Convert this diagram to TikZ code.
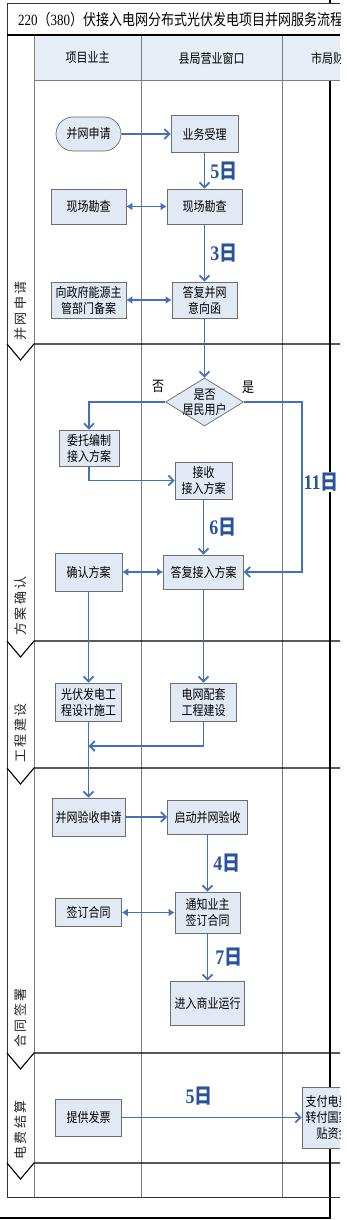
\documentclass[tikz,border=0pt]{standalone}
\usepackage{fontspec}
\usepackage{graphicx}
\setmainfont{Noto Sans CJK SC}
\newfontfamily\serifdig{Liberation Serif}
\usetikzlibrary{arrows.meta,shapes.geometric,shapes.misc}
\definecolor{boxfill}{RGB}{225,233,245}
\definecolor{headfill}{RGB}{232,238,247}
\definecolor{flow}{RGB}{66,112,192}
\definecolor{daycol}{RGB}{40,82,158}
\definecolor{lanegray}{RGB}{125,125,125}
\definecolor{boxline}{RGB}{110,110,110}
\newcommand\vst[1]{\scalebox{1}[1.2]{#1}}
\newcommand\dayl[1]{\scalebox{1}[1.15]{{\serifdig\bfseries #1}\textbf{日}}}
\tikzset{
  stepbox/.style={draw=boxline, fill=boxfill, line width=0.7pt, inner sep=1pt,
    align=center, font=\fontsize{11}{16}\selectfont},
  startbox/.style={stepbox, rounded rectangle},
  decision/.style={diamond, draw=boxline, fill=boxfill, line width=0.7pt,
    inner sep=0pt, minimum width=78pt, minimum height=48pt},
  flowarrow/.style={draw=flow, line width=1.8pt, -{Straight Barb[length=5pt,width=10pt]}},
  biarrow/.style={draw=flow, line width=1.8pt,
    {Latex[length=6pt,width=8pt]}-{Latex[length=6pt,width=8pt]}},
  daylabel/.style={text=daycol, font=\fontsize{18}{18}\selectfont, inner sep=1pt},
  phaselabel/.style={rotate=90, inner sep=0pt, text=black!85,
    font=\fontsize{13}{13}\selectfont\addfontfeature{LetterSpace=20}},
  headtext/.style={font=\fontsize{11}{12}\selectfont, inner sep=0pt},
  phaseline/.style={black, line width=1.1pt},
  laneline/.style={lanegray, line width=0.8pt},
}
\begin{document}
\begin{tikzpicture}[x=1pt,y=-1pt]
\useasboundingbox (0,0) rectangle (346,1220);
\clip (0,0) rectangle (340,1220);
% outer frame
\draw[black, line width=1.1pt] (330,0) -- (330,1218) -- (0,1218);
% title bar
\fill[white] (7,3) rectangle (340,35);
\node[anchor=west, inner sep=0pt, font=\fontsize{13}{13}\selectfont] (title) at (18,20)
  {\vst{{\serifdig 220}（{\serifdig 380}）伏接入电网分布式光伏发电项目并网服务流程}};
% header row
\fill[headfill] (34,35) rectangle (340,80);
\node[headtext] (hOwner) at (87.5,58) {\vst{项目业主}};
\node[headtext] (hCounty) at (211.5,58) {\vst{县局营业窗口}};
\node[headtext, anchor=west] (hCity) at (311,58) {\vst{市局财务}};
% lane lines
\draw[laneline] (34,35) -- (34,1197);
\draw[laneline] (141,35) -- (141,1197);
\draw[laneline] (282,35) -- (282,1197);
\draw[laneline] (34,80) -- (340,80);
% borders
\draw[black!80, line width=0.8pt] (340,3) -- (7,3) -- (7,1197) -- (340,1197);
\draw[black, line width=1.3pt] (7,35) -- (340,35);
% phase dividers with chevrons
\foreach \py in {344,641,768,1053,1163}{
  \draw[phaseline] (7,\py) -- (20.5,\py+16) -- (34,\py) -- (340,\py);
}
% phase labels
\node[phaselabel] (p1) at (20.5,311) {并网申请};
\node[phaselabel] (p2) at (20.5,606) {方案确认};
\node[phaselabel] (p3) at (20.5,733) {工程建设};
\node[phaselabel] (p4) at (20.5,1018) {合同签署};
\node[phaselabel] (p5) at (20.5,1130) {电费结算};
% nodes
\node[startbox, minimum width=67pt, minimum height=34pt] (apply) at (88.5,134) {\vst{并网申请}};
\node[stepbox, minimum width=67pt, minimum height=37pt] (accept) at (204.5,134) {\vst{业务受理}};
\node[stepbox, minimum width=75pt, minimum height=35pt] (surveyL) at (88.5,206.5) {\vst{现场勘查}};
\node[stepbox, minimum width=75pt, minimum height=35pt] (surveyR) at (204.5,206.5) {\vst{现场勘查}};
\node[stepbox, minimum width=75pt, minimum height=36pt] (record) at (88.5,300) {\vst{向政府能源主}\\\vst{管部门备案}};
\node[stepbox, minimum width=65pt, minimum height=36pt] (reply) at (204.5,300) {\vst{答复并网}\\\vst{意向函}};
\node[decision, label={[font=\fontsize{11}{15}\selectfont, align=center, inner sep=0pt]center:\vst{是否}\\\vst{居民用户}}] (resident) at (204.5,402) {};
\node[font=\fontsize{12}{12}\selectfont, inner sep=0pt] (no) at (158,386) {\vst{否}};
\node[font=\fontsize{12}{12}\selectfont, inner sep=0pt] (yes) at (248,387) {\vst{是}};
\node[stepbox, minimum width=60pt, minimum height=36pt] (entrust) at (89,448) {\vst{委托编制}\\\vst{接入方案}};
\node[stepbox, minimum width=57pt, minimum height=37pt] (receive) at (203.5,480.5) {\vst{接收}\\\vst{接入方案}};
\node[stepbox, minimum width=67pt, minimum height=38pt] (confirm) at (88.5,572) {\vst{确认方案}};
\node[stepbox, minimum width=80pt, minimum height=34pt] (replyplan) at (203.5,572) {\vst{答复接入方案}};
\node[stepbox, minimum width=66pt, minimum height=38pt] (pvbuild) at (88.5,702) {\vst{光伏发电工}\\\vst{程设计施工}};
\node[stepbox, minimum width=66pt, minimum height=38pt] (gridbuild) at (203.5,702) {\vst{电网配套}\\\vst{工程建设}};
\coordinate (merge) at (88.5,746);
\node[stepbox, minimum width=73pt, minimum height=38pt] (inspectapply) at (88.5,817) {\vst{并网验收申请}};
\node[stepbox, minimum width=80pt, minimum height=34pt] (inspect) at (207.5,817) {\vst{启动并网验收}};
\node[stepbox, minimum width=66pt, minimum height=28pt] (sign) at (88.5,912.5) {\vst{签订合同}};
\node[stepbox, minimum width=65pt, minimum height=41pt] (notify) at (207.5,912.5) {\vst{通知业主}\\\vst{签订合同}};
\node[stepbox, minimum width=74pt, minimum height=44pt] (operate) at (207.5,1003) {\vst{进入商业运行}};
\node[stepbox, minimum width=66pt, minimum height=37pt] (invoice) at (88.5,1117.5) {\vst{提供发票}};
\node[stepbox, minimum width=62pt, minimum height=61pt] (pay) at (333,1117.5) {\vst{支付电费、}\\\vst{转付国家补}\\\vst{贴资金}};
\coordinate (yesturn) at (302,482);
% connectors
\draw[flowarrow] (apply) -- (accept);
\draw[flowarrow] (accept) -- node[daylabel, right=4pt] (l5a) {\dayl{5}} (surveyR);
\draw[biarrow] (surveyL) -- (surveyR);
\draw[flowarrow] (surveyR) -- node[daylabel, right=4pt] (l3) {\dayl{3}} (reply);
\draw[biarrow] (record) -- (reply);
\draw[flowarrow] (reply) -- (resident);
\draw[flowarrow] (resident.west) -| (entrust.north);
\draw[flowarrow] (resident.east) -| (yesturn) |- (replyplan.east);
\node[daylabel, fill=white] (l11) at (321,482) {\dayl{11}};
\draw[flowarrow] (entrust.south) |- (receive.west);
\draw[flowarrow] (receive) -- node[daylabel, right=4pt] (l6) {\dayl{6}} (replyplan);
\draw[biarrow] (confirm) -- (replyplan);
\draw[flowarrow] (confirm) -- (pvbuild);
\draw[flowarrow] (replyplan) -- (gridbuild);
\draw[flowarrow] (gridbuild.south) |- (merge);
\draw[flowarrow] (pvbuild) -- (inspectapply);
\draw[flowarrow] (inspectapply) -- (inspect);
\draw[flowarrow] (inspect) -- node[daylabel, right=4pt] (l4) {\dayl{4}} (notify);
\draw[biarrow] (sign) -- (notify);
\draw[flowarrow] (notify) -- node[daylabel, right=6pt] (l7) {\dayl{7}} (operate);
\draw[flowarrow] (invoice) -- node[daylabel, pos=0.43, above=10pt] (l5b) {\dayl{5}} (pay);
\end{tikzpicture}
\end{document}
